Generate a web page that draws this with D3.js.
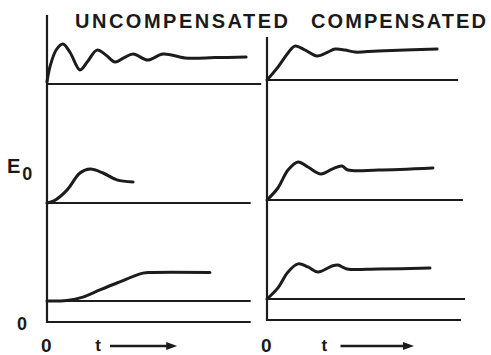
<!DOCTYPE html>
<html>
<head>
<meta charset="utf-8">
<script src="https://cdn.jsdelivr.net/npm/d3@7"></script>
<style>
  html, body { margin: 0; padding: 0; background: #fff; }
  svg { display: block; }
  text { font-family: "Liberation Sans", "Arial", sans-serif; font-weight: bold; fill: #1a1a1a; }
</style>
</head>
<body>
<svg id="chart" width="491" height="355"></svg>
<script>
// Panel titles and axis labels
const panelTitles = ["UNCOMPENSATED", "COMPENSATED"];
const yLabel = "E";
const ySub = "0";
const originLabel = "0";
const timeLabel = "t";

// Step responses, [time, output] with output 1 = settled level
const uncompensatedTop = [[0, 0.07], [0.15, 0.6], [0.45, 1.15], [0.76, 1.33], [1.1, 1.05], [1.57, 0.47],
  [1.95, 0.77], [2.38, 1.13], [2.8, 0.97], [3.24, 0.73], [3.65, 0.87], [4.1, 1.0], [4.8, 0.8],
  [5.52, 1.0], [6.57, 0.87], [8.0, 0.88], [9.48, 0.9]];
const uncompensatedMiddle = [[0, 0], [0.33, 0.07], [0.95, 0.43], [1.57, 1.0], [2.05, 1.13],
  [2.67, 1.0], [3.33, 0.77], [4.1, 0.7]];
const uncompensatedBottom = [[0, 0], [0.95, 0.02], [1.71, 0.13], [2.52, 0.37], [3.33, 0.6],
  [4.57, 0.93], [5.0, 0.95], [7.76, 0.95]];
const compensatedTop = [[0, 0], [0.52, 0.43], [1.0, 0.9], [1.33, 1.13], [1.81, 1.0], [2.38, 0.8],
  [2.9, 0.93], [3.24, 1.03], [3.71, 1.0], [4.19, 0.93], [5.29, 0.97], [8.1, 1.03]];
const compensatedMiddle = [[0, 0], [0.52, 0.4], [1.0, 1.0], [1.48, 1.27], [1.95, 1.1], [2.57, 0.87],
  [3.1, 1.03], [3.57, 1.13], [3.86, 1.0], [5.29, 1.0], [7.9, 1.07]];
const compensatedBottom = [[0, 0], [0.52, 0.37], [1.0, 0.9], [1.48, 1.17], [1.95, 1.07], [2.43, 0.9],
  [3.1, 1.1], [3.38, 1.13], [3.81, 1.0], [5.29, 1.0], [7.76, 1.03]];

// Reference (zero) line lengths in time units for each row
const leftBaselineEnds = [10.2, 9.7, 9.7];
const rightBaselineEnds = [9.1, 9.33, 9.43];
const timeAxisEnds = [9.7, 9.24];
const timeAxisLevel = -0.7;

const svg = d3.select("#chart");
const ink = "#1c1c1c";

// Horizontal layout of the two panels
const xLeft = d3.scaleLinear().domain([0, 10]).range([47, 257]);
const xRight = d3.scaleLinear().domain([0, 10]).range([267, 477]);

// Each cell: its own output scale, baseline at output 0
function rowScale(base) {
  return d3.scaleLinear().domain([0, 1]).range([base, base - 30]);
}
const leftRows = [rowScale(84), rowScale(203), rowScale(301)];
const rightRows = [rowScale(80), rowScale(200), rowScale(299)];

const panels = [
  { x: xLeft, rows: leftRows, curves: [uncompensatedTop, uncompensatedMiddle, uncompensatedBottom],
    ends: leftBaselineEnds, axisEnd: timeAxisEnds[0], axisTop: 2.3 },
  { x: xRight, rows: rightRows, curves: [compensatedTop, compensatedMiddle, compensatedBottom],
    ends: rightBaselineEnds, axisEnd: timeAxisEnds[1], axisTop: 1.43 }
];

panels.forEach(p => {
  const g = svg.append("g");
  // vertical output axis
  g.append("line")
    .attr("x1", p.x(0)).attr("x2", p.x(0))
    .attr("y1", p.rows[0](p.axisTop)).attr("y2", p.rows[2](timeAxisLevel) + 1)
    .attr("stroke", ink).attr("stroke-width", 2.2);
  // time axis
  g.append("line")
    .attr("x1", p.x(0)).attr("x2", p.x(p.axisEnd))
    .attr("y1", p.rows[2](timeAxisLevel)).attr("y2", p.rows[2](timeAxisLevel))
    .attr("stroke", ink).attr("stroke-width", 2);
  p.rows.forEach((y, i) => {
    // zero reference line for this row
    g.append("line")
      .attr("x1", p.x(0)).attr("x2", p.x(p.ends[i]))
      .attr("y1", y(0)).attr("y2", y(0))
      .attr("stroke", ink).attr("stroke-width", 2);
    // step response
    const line = d3.line()
      .x(d => p.x(d[0])).y(d => y(d[1]))
      .curve(d3.curveCatmullRom.alpha(0.5));
    g.append("path")
      .attr("d", line(p.curves[i]))
      .attr("fill", "none").attr("stroke", ink)
      .attr("stroke-width", 3).attr("stroke-linecap", "round").attr("stroke-linejoin", "round");
  });
});

// Titles
svg.append("text").attr("x", 75).attr("y", 28)
  .attr("font-size", 20).attr("textLength", 213).attr("lengthAdjust", "spacing")
  .text(panelTitles[0]);
svg.append("text").attr("x", 311).attr("y", 28)
  .attr("font-size", 20).attr("textLength", 175).attr("lengthAdjust", "spacing")
  .text(panelTitles[1]);

// Output label
const eLabel = svg.append("text").attr("x", 7).attr("y", 173).attr("font-size", 20);
eLabel.append("tspan").text(yLabel);
eLabel.append("tspan").attr("dx", 2).attr("dy", 7).attr("font-size", 18).text(ySub);

// Origin labels
svg.append("text").attr("x", 17).attr("y", 330).attr("font-size", 18).text(originLabel);
[xLeft, xRight].forEach(x => {
  svg.append("text").attr("x", x(0) - 6).attr("y", 352).attr("font-size", 19).text(originLabel);
});

// Time label with arrow
const arrows = [[2.3, 3.0, 6.2], [2.6, 3.5, 7.0]];
[xLeft, xRight].forEach((x, i) => {
  const [tl, a0, a1] = arrows[i];
  const yA = 346;
  svg.append("text").attr("x", x(tl)).attr("y", 351).attr("font-size", 17).text(timeLabel);
  svg.append("line")
    .attr("x1", x(a0)).attr("x2", x(a1) - 8)
    .attr("y1", yA).attr("y2", yA)
    .attr("stroke", ink).attr("stroke-width", 2.6);
  svg.append("path")
    .attr("d", `M${x(a1) - 11},${yA - 4} L${x(a1)},${yA} L${x(a1) - 11},${yA + 4} Z`)
    .attr("fill", ink);
});
</script>
</body>
</html>
